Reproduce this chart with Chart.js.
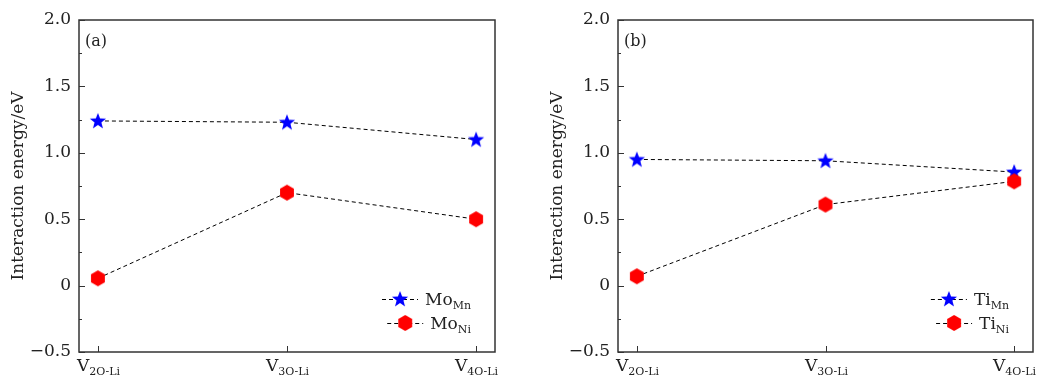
<!DOCTYPE html>
<html lang="en">
  <head>
    <meta charset="UTF-8" />
    <title>Interaction energy</title>
    <script src="https://cdn.jsdelivr.net/npm/chart.js"></script>
    <style>
      body { margin: 0; background: #fff; }
      .row { display: flex; width: 1041px; height: 379px; }
    </style>
  </head>
  <body>
    <div class="row">
      <canvas id="chartA" width="520" height="379"></canvas>
      <canvas id="chartB" width="521" height="379"></canvas>
    </div>

    <script>
      // category labels: main letter + subscript
      const categories = ["2O-Li", "3O-Li", "4O-Li"];

      // panel (a)
      const moMn = [1.24, 1.23, 1.1];
      const moNi = [0.055, 0.7, 0.5];
      // panel (b)
      const tiMn = [0.95, 0.94, 0.855];
      const tiNi = [0.07, 0.61, 0.785];

      const yTicks = [-0.5, 0, 0.5, 1.0, 1.5, 2.0];

      const FONT = "DejaVu Serif";
      const FS = 17;   // main text size
      const SS = 11;   // subscript size
      const FRAME = "#333";

      function starImage(color) {
        const c = document.createElement("canvas");
        c.width = 18; c.height = 18;
        const g = c.getContext("2d");
        g.fillStyle = color;
        g.beginPath();
        for (let i = 0; i < 10; i++) {
          const r = i % 2 === 0 ? 8.5 : 3.6;
          const a = -Math.PI / 2 + (i * Math.PI) / 5;
          const px = 9 + r * Math.cos(a), py = 9.5 + r * Math.sin(a);
          i === 0 ? g.moveTo(px, py) : g.lineTo(px, py);
        }
        g.closePath();
        g.fill();
        return c;
      }

      function hexImage(color) {
        const c = document.createElement("canvas");
        c.width = 18; c.height = 18;
        const g = c.getContext("2d");
        g.fillStyle = color;
        g.beginPath();
        for (let i = 0; i < 6; i++) {
          const a = -Math.PI / 2 + (i * Math.PI) / 3;
          const px = 9 + 8 * Math.cos(a), py = 9 + 8 * Math.sin(a);
          i === 0 ? g.moveTo(px, py) : g.lineTo(px, py);
        }
        g.closePath();
        g.fill();
        return c;
      }

      function widthOf(ctx, main, sub) {
        ctx.font = FS + "px '" + FONT + "'";
        const w1 = ctx.measureText(main).width;
        ctx.font = SS + "px '" + FONT + "'";
        return [w1, ctx.measureText(sub).width];
      }

      // text with a subscript part
      function subText(ctx, main, sub, x, y, align) {
        const [w1, w2] = widthOf(ctx, main, sub);
        let x0 = x;
        if (align === "center") x0 = x - (w1 + w2) / 2;
        if (align === "right") x0 = x - (w1 + w2);
        ctx.textAlign = "left";
        ctx.textBaseline = "alphabetic";
        ctx.fillStyle = "#222";
        ctx.font = FS + "px '" + FONT + "'";
        ctx.fillText(main, x0, y);
        ctx.font = SS + "px '" + FONT + "'";
        ctx.fillText(sub, x0 + w1, y + 4);
      }

      const decorPlugin = {
        id: "decor",
        afterDraw(chart) {
          const ctx = chart.ctx;
          const a = chart.chartArea;
          const ys = chart.scales.y;
          const xs = chart.scales.x;
          const o = chart.options.plugins.decor;
          ctx.save();
          // frame
          ctx.strokeStyle = FRAME;
          ctx.lineWidth = 1.5;
          ctx.strokeRect(a.left, a.top, a.right - a.left, a.bottom - a.top);
          // inward y ticks (major + minor)
          ctx.lineWidth = 1;
          for (let v = -0.5; v <= 2.0001; v += 0.25) {
            const py = Math.round(ys.getPixelForValue(v)) + 0.5;
            const major = Math.abs(v * 2 - Math.round(v * 2)) < 1e-6;
            ctx.beginPath();
            ctx.moveTo(a.left, py);
            ctx.lineTo(a.left + (major ? 6 : 3), py);
            ctx.stroke();
          }
          // x ticks and labels
          categories.forEach((c, i) => {
            const px = Math.round(xs.getPixelForValue(i)) + 0.5;
            ctx.beginPath();
            ctx.moveTo(px, a.bottom);
            ctx.lineTo(px, a.bottom - 6);
            ctx.stroke();
            subText(ctx, "V", c, px, a.bottom + 19, "center");
          });
          // panel tag
          ctx.font = "16px '" + FONT + "'";
          ctx.fillStyle = "#222";
          ctx.textAlign = "left";
          ctx.textBaseline = "alphabetic";
          ctx.fillText(o.tag, a.left + 6, a.top + 26);
          // legend (right aligned)
          const items = chart.data.datasets
            .slice()
            .sort((p, q) => p.legendIndex - q.legendIndex);
          items.forEach((ds, k) => {
            const ly = a.bottom - 53 + k * 24;
            const [w1, w2] = widthOf(ctx, ds.main, ds.sub);
            const tx = a.right - 24 - (w1 + w2);
            const lx = tx - 43;
            ctx.strokeStyle = "#000";
            ctx.lineWidth = 1;
            ctx.setLineDash([4, 3]);
            ctx.beginPath();
            ctx.moveTo(lx, ly + 0.5);
            ctx.lineTo(lx + 36, ly + 0.5);
            ctx.stroke();
            ctx.setLineDash([]);
            const img = ds.pointStyle;
            ctx.drawImage(img, lx + 18 - img.width / 2, ly - img.height / 2);
            subText(ctx, ds.main, ds.sub, tx, ly + 6, "left");
          });
          ctx.restore();
        },
      };

      function makeChart(id, element, mn, ni, tag, padLeft, padRight) {
        const pts = (arr) => arr.map((v, i) => ({ x: i, y: v }));
        return new Chart(document.getElementById(id), {
          type: "line",
          data: {
            datasets: [
              {
                main: element, sub: "Mn", legendIndex: 0,
                data: pts(mn),
                borderColor: "#000",
                borderWidth: 1,
                borderDash: [4, 3],
                pointStyle: starImage("#0000ff"),
                order: 1,
              },
              {
                main: element, sub: "Ni", legendIndex: 1,
                data: pts(ni),
                borderColor: "#000",
                borderWidth: 1,
                borderDash: [4, 3],
                pointStyle: hexImage("#ff0000"),
                order: 0,
              },
            ],
          },
          options: {
            responsive: false,
            animation: false,
            layout: { padding: { left: padLeft, right: padRight, top: 20, bottom: 27 } },
            plugins: {
              legend: { display: false },
              tooltip: { enabled: false },
              decor: { tag: tag },
            },
            scales: {
              x: {
                type: "linear",
                min: -0.1,
                max: 2.1,
                grid: { display: false },
                border: { display: false },
                ticks: { display: false },
                afterFit(s) { s.height = 0; },
              },
              y: {
                min: -0.5,
                max: 2.0,
                afterBuildTicks(s) { s.ticks = yTicks.map((v) => ({ value: v })); },
                grid: { display: false, drawTicks: false },
                border: { display: false },
                ticks: {
                  padding: 8,
                  color: "#222",
                  font: { family: FONT, size: FS },
                  callback: (v) =>
                    v === 0 ? "0" : v < 0 ? "\u2212" + Math.abs(v).toFixed(1) : v.toFixed(1),
                },
                title: {
                  display: true,
                  text: "Interaction energy/eV",
                  color: "#222",
                  font: { family: FONT, size: FS },
                  padding: { top: 8, bottom: 0 },
                },
                afterFit(s) { s.width = 79; },
              },
            },
          },
          plugins: [decorPlugin],
        });
      }

      makeChart("chartA", "Mo", moMn, moNi, "(a)", 0, 25);
      makeChart("chartB", "Ti", tiMn, tiNi, "(b)", 19, 8);
    </script>
  </body>
</html>
